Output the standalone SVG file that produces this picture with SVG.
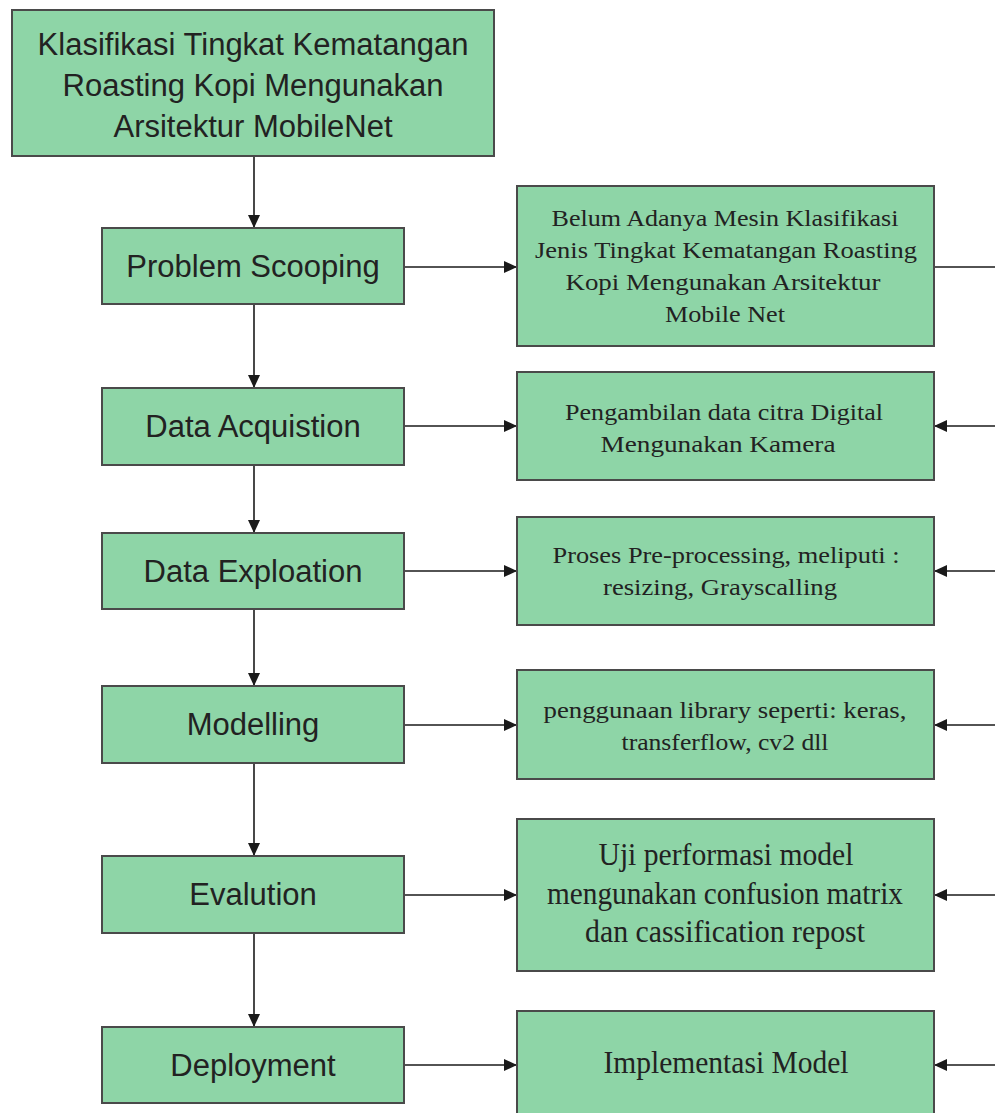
<svg xmlns="http://www.w3.org/2000/svg" width="995" height="1113" viewBox="0 0 995 1113">
<defs>
<marker id="ah" markerUnits="userSpaceOnUse" markerWidth="13" markerHeight="12" refX="13" refY="6" orient="auto">
<path d="M0,0 L13,6 L0,12 z" fill="#1a1a1a"/>
</marker>
<style>
.box{fill:#8ed5a7;stroke:#4a4a4a;stroke-width:2}
.sans{font-family:"Liberation Sans",Arial,sans-serif;font-size:31px;fill:#222;text-anchor:middle}
.serif{font-family:"Liberation Serif","Times New Roman",serif;font-size:23px;fill:#222;text-anchor:middle}
.serifL{font-family:"Liberation Serif","Times New Roman",serif;font-size:31px;fill:#222;text-anchor:middle}
.ln{stroke:#1a1a1a;stroke-width:1.6;fill:none}
</style>
</defs>
<rect width="995" height="1113" fill="#ffffff"/>
<g id="connectors">
<line class="ln" x1="254" y1="156" x2="254" y2="228" marker-end="url(#ah)"/>
<line class="ln" x1="254" y1="304" x2="254" y2="388" marker-end="url(#ah)"/>
<line class="ln" x1="254" y1="465" x2="254" y2="533" marker-end="url(#ah)"/>
<line class="ln" x1="254" y1="609" x2="254" y2="686" marker-end="url(#ah)"/>
<line class="ln" x1="254" y1="763" x2="254" y2="856" marker-end="url(#ah)"/>
<line class="ln" x1="254" y1="933" x2="254" y2="1027" marker-end="url(#ah)"/>
<line class="ln" x1="404" y1="267" x2="517" y2="267" marker-end="url(#ah)"/>
<line class="ln" x1="404" y1="426" x2="517" y2="426" marker-end="url(#ah)"/>
<line class="ln" x1="404" y1="571" x2="517" y2="571" marker-end="url(#ah)"/>
<line class="ln" x1="404" y1="725" x2="517" y2="725" marker-end="url(#ah)"/>
<line class="ln" x1="404" y1="895" x2="517" y2="895" marker-end="url(#ah)"/>
<line class="ln" x1="404" y1="1065" x2="517" y2="1065" marker-end="url(#ah)"/>
<line class="ln" x1="934" y1="267" x2="995" y2="267"/>
<line class="ln" x1="995" y1="426" x2="934" y2="426" marker-end="url(#ah)"/>
<line class="ln" x1="995" y1="571" x2="934" y2="571" marker-end="url(#ah)"/>
<line class="ln" x1="995" y1="725" x2="934" y2="725" marker-end="url(#ah)"/>
<line class="ln" x1="995" y1="895" x2="934" y2="895" marker-end="url(#ah)"/>
<line class="ln" x1="995" y1="1065" x2="934" y2="1065" marker-end="url(#ah)"/>
</g>
<g id="title">
<rect class="box" x="12" y="10" width="482" height="146"/>
<text class="sans" x="253" y="55">Klasifikasi Tingkat Kematangan</text>
<text class="sans" x="253" y="96">Roasting Kopi Mengunakan</text>
<text class="sans" x="253" y="137">Arsitektur MobileNet</text>
</g>
<g id="problem-scooping">
<rect class="box" x="102" y="228" width="302" height="76"/>
<text class="sans" x="253" y="277">Problem Scooping</text>
</g>
<g id="data-acquistion">
<rect class="box" x="102" y="388" width="302" height="77"/>
<text class="sans" x="253" y="437">Data Acquistion</text>
</g>
<g id="data-exploation">
<rect class="box" x="102" y="533" width="302" height="76"/>
<text class="sans" x="253" y="582">Data Exploation</text>
</g>
<g id="modelling">
<rect class="box" x="102" y="686" width="302" height="77"/>
<text class="sans" x="253" y="735">Modelling</text>
</g>
<g id="evalution">
<rect class="box" x="102" y="856" width="302" height="77"/>
<text class="sans" x="253" y="905">Evalution</text>
</g>
<g id="deployment">
<rect class="box" x="102" y="1027" width="302" height="76"/>
<text class="sans" x="253" y="1076">Deployment</text>
</g>
<g id="desc-problem">
<rect class="box" x="517" y="186" width="417" height="160"/>
<text class="serif" x="725" y="226" textLength="347" lengthAdjust="spacingAndGlyphs">Belum Adanya Mesin Klasifikasi</text>
<text class="serif" x="726" y="258" textLength="382" lengthAdjust="spacingAndGlyphs">Jenis Tingkat Kematangan Roasting</text>
<text class="serif" x="723" y="290" textLength="315" lengthAdjust="spacingAndGlyphs">Kopi Mengunakan Arsitektur</text>
<text class="serif" x="725" y="322" textLength="120" lengthAdjust="spacingAndGlyphs">Mobile Net</text>
</g>
<g id="desc-acquistion">
<rect class="box" x="517" y="372" width="417" height="108"/>
<text class="serif" x="724" y="420" textLength="318" lengthAdjust="spacingAndGlyphs">Pengambilan data citra Digital</text>
<text class="serif" x="718" y="452" textLength="235" lengthAdjust="spacingAndGlyphs">Mengunakan Kamera</text>
</g>
<g id="desc-exploation">
<rect class="box" x="517" y="517" width="417" height="108"/>
<text class="serif" x="726" y="563" textLength="347" lengthAdjust="spacingAndGlyphs">Proses Pre-processing, meliputi :</text>
<text class="serif" x="720" y="595" textLength="234" lengthAdjust="spacingAndGlyphs">resizing, Grayscalling</text>
</g>
<g id="desc-modelling">
<rect class="box" x="517" y="670" width="417" height="109"/>
<text class="serif" x="725" y="718" textLength="363" lengthAdjust="spacingAndGlyphs">penggunaan library seperti: keras,</text>
<text class="serif" x="725" y="750" textLength="207" lengthAdjust="spacingAndGlyphs">transferflow, cv2 dll</text>
</g>
<g id="desc-evalution">
<rect class="box" x="517" y="819" width="417" height="152"/>
<text class="serifL" x="726" y="865" textLength="255" lengthAdjust="spacingAndGlyphs">Uji performasi model</text>
<text class="serifL" x="725" y="904" textLength="356" lengthAdjust="spacingAndGlyphs">mengunakan confusion matrix</text>
<text class="serifL" x="725" y="942" textLength="280" lengthAdjust="spacingAndGlyphs">dan cassification repost</text>
</g>
<g id="desc-deployment">
<rect class="box" x="517" y="1011" width="417" height="110"/>
<text class="serifL" x="726" y="1073" textLength="245" lengthAdjust="spacingAndGlyphs">Implementasi Model</text>
</g>
</svg>
